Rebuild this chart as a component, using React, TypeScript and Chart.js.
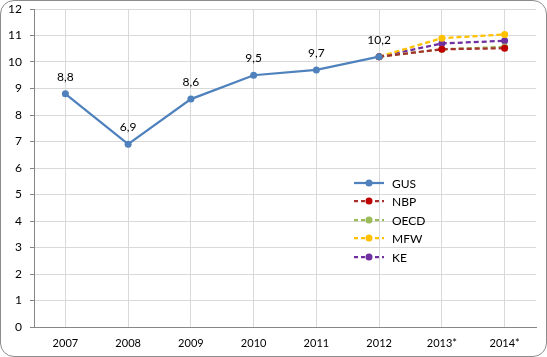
import React, { useEffect, useRef } from "react";
import { Chart, registerables } from "chart.js";
Chart.register(...registerables);

const categories = ["2007", "2008", "2009", "2010", "2011", "2012", "2013*", "2014*"];
const gus = [8.8, 6.9, 8.6, 9.5, 9.7, 10.2, null, null];
const nbp = [null, null, null, null, null, 10.2, 10.48, 10.52];
const oecd = [null, null, null, null, null, 10.2, 10.48, 10.57];
const mfw = [null, null, null, null, null, 10.2, 10.9, 11.04];
const ke = [null, null, null, null, null, 10.2, 10.7, 10.8];
const seriesNames = ["GUS", "NBP", "OECD", "MFW", "KE"];
const seriesColors = ["#4F81BD", "#A5302C", "#9BBB59", "#FFC000", "#7030A0"];
const pointColors = ["#4F81BD", "#C00000", "#9BBB59", "#FFC000", "#7030A0"];
const FONT = "Lato, 'Open Sans', sans-serif";

const labelPlugin = {
  id: "gusLabels",
  afterDatasetsDraw(chart: any) {
    const ctx = chart.ctx;
    const meta = chart.getDatasetMeta(0);
    ctx.save();
    ctx.font = `12px ${FONT}`;
    ctx.fillStyle = "#000";
    ctx.textAlign = "center";
    ctx.textBaseline = "middle";
    gus.forEach((v, i) => {
      if (v == null) return;
      const p = meta.data[i];
      ctx.fillText(String(v).replace(".", ","), p.x, p.y - 17);
    });
    ctx.restore();
  },
};

const legendPlugin = {
  id: "customLegend",
  afterDraw(chart: any) {
    const ctx = chart.ctx;
    ctx.save();
    const x0 = 354, x1 = 384, xm = 369, tx = 392;
    const ys = [183, 201, 220, 238, 257];
    seriesNames.forEach((name, i) => {
      const y = ys[i];
      ctx.strokeStyle = seriesColors[i];
      ctx.lineWidth = 2.25;
      ctx.setLineDash(i === 0 ? [] : [4, 3]);
      ctx.beginPath();
      ctx.moveTo(x0, y);
      ctx.lineTo(x1, y);
      ctx.stroke();
      ctx.setLineDash([]);
      ctx.fillStyle = pointColors[i];
      ctx.beginPath();
      ctx.arc(xm, y, 3.5, 0, Math.PI * 2);
      ctx.fill();
      ctx.fillStyle = "#000";
      ctx.font = `12px ${FONT}`;
      ctx.textAlign = "left";
      ctx.textBaseline = "middle";
      ctx.fillText(name, tx, y + 1);
    });
    ctx.restore();
  },
};

export default function App() {
  const ref = useRef<HTMLCanvasElement>(null);
  useEffect(() => {
    document.body.style.margin = "0";
    const data = [gus, nbp, oecd, mfw, ke];
    const chart = new Chart(ref.current!, {
      type: "line",
      data: {
        labels: categories,
        datasets: data.map((d, i) => ({
          label: seriesNames[i],
          data: d,
          borderColor: seriesColors[i],
          backgroundColor: pointColors[i],
          borderWidth: 2.25,
          borderDash: i === 0 ? [] : [5, 3],
          pointRadius: 3.5,
          pointHoverRadius: 3.5,
          pointBorderWidth: 0,
          tension: 0,
          spanGaps: false,
        })),
      },
      options: {
        animation: false,
        responsive: false,
        maintainAspectRatio: false,
        layout: { padding: { top: 9, right: 11, left: 0, bottom: 0 } },
        plugins: { legend: { display: false }, tooltip: { enabled: false } },
        scales: {
          x: {
            offset: true,
            grid: { color: "#D9D9D9", lineWidth: 1, offset: false, drawTicks: false },
            border: { color: "#868686" },
            ticks: { color: "#000", font: { family: FONT, size: 11 }, padding: 10, maxRotation: 0 },
            afterFit: (s: any) => { s.height = 30; s.paddingLeft = 0; s.paddingRight = 0; },
          },
          y: {
            min: 0,
            max: 12,
            ticks: { stepSize: 1, color: "#000", font: { family: FONT, size: 12 }, padding: 8 },
            grid: { color: "#D9D9D9", lineWidth: 1, tickLength: 4, tickColor: "#868686" },
            border: { color: "#868686" },
            afterFit: (s: any) => { s.width = 34; s.paddingTop = 0; s.paddingBottom = 0; },
          },
        },
      },
      plugins: [labelPlugin, legendPlugin],
    });
    return () => chart.destroy();
  }, []);
  return (
    <div style={{ position: "absolute", left: 0, top: 0, width: 547, height: 357, background: "#fff" }}>
      <canvas ref={ref} width={547} height={357} style={{ position: "absolute", left: 0, top: 0 }} />
      <div
        style={{
          position: "absolute",
          left: 0,
          top: 0,
          width: 547,
          height: 357,
          boxSizing: "border-box",
          border: "1px solid #8C8C8C",
          borderRadius: 14,
          pointerEvents: "none",
        }}
      />
    </div>
  );
}
